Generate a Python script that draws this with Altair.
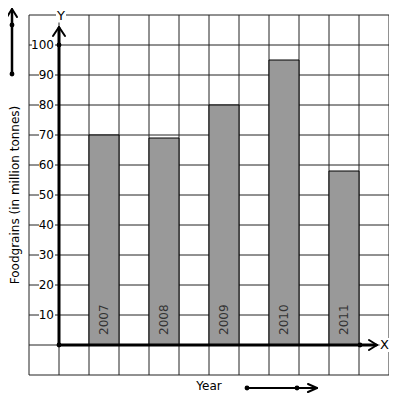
import altair as alt
import pandas as pd

years = ["2007", "2008", "2009", "2010", "2011"]
foodgrains = [70, 69, 80, 95, 58]
bar_start = [1, 3, 5, 7, 9]
ytick_values = [10, 20, 30, 40, 50, 60, 70, 80, 90, 100]
grid_x = list(range(-1, 12))
grid_y = list(range(-10, 111, 10))

FONT = "DejaVu Sans"
PX_X = 30.0  # pixels per x unit
PX_Y = 3.0   # pixels per y unit

xs = alt.Scale(domain=[-1, 11], nice=False, zero=False)
ys = alt.Scale(domain=[-10, 110], nice=False, zero=False)
NOAX = None

bars_df = pd.DataFrame({
    "year": years,
    "value": foodgrains,
    "x0": bar_start,
    "x1": [b + 1 for b in bar_start],
    "xc": [b + 0.5 for b in bar_start],
    "zero": [0] * len(years),
})

# grid lines
gx_df = pd.DataFrame({"gx": grid_x, "lo": -10, "hi": 110})
gy_df = pd.DataFrame({"gy": grid_y, "lo": -1, "hi": 11})
grid_v = alt.Chart(gx_df).mark_rule(color="#222222", strokeWidth=1).encode(
    x=alt.X("gx:Q", scale=xs, axis=NOAX),
    y=alt.Y("lo:Q", scale=ys, axis=NOAX), y2="hi:Q",
)
grid_h = alt.Chart(gy_df).mark_rule(color="#222222", strokeWidth=1).encode(
    y=alt.Y("gy:Q", scale=ys, axis=NOAX),
    x=alt.X("lo:Q", scale=xs, axis=NOAX), x2="hi:Q",
)

bars = alt.Chart(bars_df).mark_rect(fill="#999999", stroke="#000000", strokeWidth=1).encode(
    x=alt.X("x0:Q", scale=xs, axis=NOAX),
    x2="x1:Q",
    y=alt.Y("value:Q", scale=ys, axis=NOAX),
    y2="zero:Q",
)

bar_labels = alt.Chart(bars_df).mark_text(
    angle=270, align="left", baseline="middle", font=FONT, fontSize=12, color="#333333"
).encode(
    x=alt.X("xc:Q", scale=xs, axis=NOAX),
    y=alt.Y("ly:Q", scale=ys, axis=NOAX),
    text="year:N",
).transform_calculate(ly=str(10 / PX_Y))

# y tick labels with white backgrounds
lab_df = pd.DataFrame({"v": ytick_values, "t": [str(v) for v in ytick_values]})
lab_x = -5 / PX_X
lab_df["lx"] = lab_x
lab_df["bx0"] = [lab_x - (len(t) * 7 + 1) / PX_X for t in lab_df["t"]]
lab_df["bx1"] = lab_x + 1 / PX_X
lab_df["by0"] = lab_df["v"] - 6 / PX_Y
lab_df["by1"] = lab_df["v"] + 6 / PX_Y

lab_bg = alt.Chart(lab_df).mark_rect(fill="white").encode(
    x=alt.X("bx0:Q", scale=xs, axis=NOAX), x2="bx1:Q",
    y=alt.Y("by0:Q", scale=ys, axis=NOAX), y2="by1:Q",
)
lab_txt = alt.Chart(lab_df).mark_text(align="right", baseline="middle", font=FONT, fontSize=12, color="#000000").encode(
    x=alt.X("lx:Q", scale=xs, axis=NOAX),
    y=alt.Y("v:Q", scale=ys, axis=NOAX),
    text="t:N",
)

def px(xp, yp):
    return ((xp - 59) / PX_X, (345 - yp) / PX_Y)

# axis letters with white backgrounds
letters_df = pd.DataFrame({
    "t": ["X", "Y"],
    "x": [px(384.5, 0)[0], px(61, 0)[0]],
    "y": [px(0, 345)[1], px(0, 15.5)[1]],
})
letters_df["bx0"] = letters_df["x"] - 5 / PX_X
letters_df["bx1"] = letters_df["x"] + 5 / PX_X
letters_df["by0"] = letters_df["y"] - 7 / PX_Y
letters_df["by1"] = letters_df["y"] + 7 / PX_Y
letters_bg = alt.Chart(letters_df).mark_rect(fill="white").encode(
    x=alt.X("bx0:Q", scale=xs, axis=NOAX), x2="bx1:Q",
    y=alt.Y("by0:Q", scale=ys, axis=NOAX), y2="by1:Q",
)
letters_txt = alt.Chart(letters_df).mark_text(align="center", baseline="middle", font=FONT, fontSize=13, color="#000000").encode(
    x=alt.X("x:Q", scale=xs, axis=NOAX),
    y=alt.Y("y:Q", scale=ys, axis=NOAX),
    text="t:N",
)

# thick axis lines and arrows
segs = []
def seg(a, b, w):
    (x1, y1), (x2, y2) = px(*a), px(*b)
    segs.append({"x": x1, "y": y1, "x2": x2, "y2": y2, "w": w})

seg((59, 345), (59, 28), 3)      # y axis
seg((59, 345), (376, 345), 3)    # x axis
seg((59, 27), (53, 36), 2)
seg((59, 27), (65, 36), 2)
seg((377, 345), (369, 340), 2)
seg((377, 345), (369, 350), 2)
seg((12, 10), (12, 74), 2.5)     # top-left arrow
seg((12, 9), (7, 17), 2)
seg((12, 9), (17, 17), 2)
seg((247, 388), (316, 388), 2)   # bottom arrow
seg((317, 388), (308, 384), 2)
seg((317, 388), (308, 392), 2)
seg_df = pd.DataFrame(segs)

rules = alt.Chart(seg_df).mark_rule(color="#000000", strokeCap="round").encode(
    x=alt.X("x:Q", scale=xs, axis=NOAX), x2="x2:Q",
    y=alt.Y("y:Q", scale=ys, axis=NOAX), y2="y2:Q",
    strokeWidth=alt.StrokeWidth("w:Q", scale=None, legend=None),
)

dots = [px(59, 45), px(59, 345), px(360, 345), px(12, 25), px(12, 74), px(247, 388), px(297, 388)]
dots_df = pd.DataFrame({"x": [d[0] for d in dots], "y": [d[1] for d in dots]})
dot_marks = alt.Chart(dots_df).mark_circle(color="#000000", opacity=1, size=24).encode(
    x=alt.X("x:Q", scale=xs, axis=NOAX),
    y=alt.Y("y:Q", scale=ys, axis=NOAX),
)

titles_df = pd.DataFrame({
    "t": ["Foodgrains (in million tonnes)", "Year"],
    "x": [px(15, 0)[0], px(209, 0)[0]],
    "y": [px(0, 195)[1], px(0, 386)[1]],
})
title_v = alt.Chart(titles_df.iloc[[0]]).mark_text(angle=270, align="center", baseline="middle", font=FONT, fontSize=12, color="#000000").encode(
    x=alt.X("x:Q", scale=xs, axis=NOAX), y=alt.Y("y:Q", scale=ys, axis=NOAX), text="t:N")
title_h = alt.Chart(titles_df.iloc[[1]]).mark_text(align="center", baseline="middle", font=FONT, fontSize=12, color="#000000").encode(
    x=alt.X("x:Q", scale=xs, axis=NOAX), y=alt.Y("y:Q", scale=ys, axis=NOAX), text="t:N")

chart = alt.layer(
    grid_v, grid_h, bars, bar_labels, lab_bg, lab_txt, letters_bg, letters_txt, rules, dot_marks, title_v, title_h
).properties(
    width=360, height=360,
    autosize=alt.AutoSizeParams(type="none"),
    padding={"left": 21, "top": 7, "right": 0, "bottom": 18},
    background="white",
).configure_view(stroke=None)

chart.save("out.html", embed_options={"renderer": "svg", "actions": False})
